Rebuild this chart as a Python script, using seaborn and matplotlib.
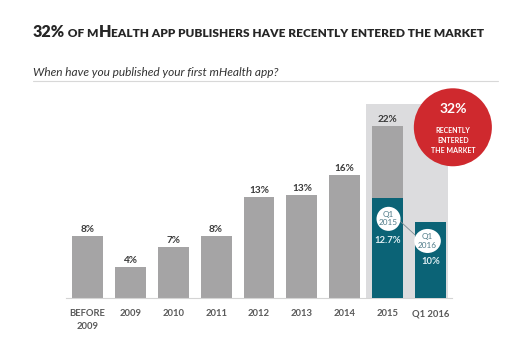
import matplotlib
matplotlib.use("Agg")
import matplotlib.pyplot as plt
import seaborn as sns
import pandas as pd
from matplotlib.patches import Ellipse, Rectangle

# ---- data ----
categories = ["BEFORE\n2009", "2009", "2010", "2011", "2012", "2013", "2014", "2015", "Q1 2016"]
total_heights = [8, 4, 6.6, 8, 13, 13.3, 15.9, 22.2, 0]
total_labels = ["8%", "4%", "7%", "8%", "13%", "13%", "16%", "22%", ""]
recent_heights = [0, 0, 0, 0, 0, 0, 0, 12.9, 9.8]
recent_labels = ["", "", "", "", "", "", "", "12.7%", "10%"]
quarter_tags = ["", "", "", "", "", "", "", "Q1\n2015", "Q1\n2016"]
callout_value = "32%"
callout_text = "RECENTLY\nENTERED\nTHE MARKET"
title_parts = [("32%", 11.6), (" OF M", 8.6), ("H", 11.6),
               ("EALTH APP PUBLISHERS HAVE RECENTLY ENTERED THE MARKET", 8.6)]
subtitle = "When have you published your first mHealth app?"

GRAY = "#a5a4a5"
TEAL = "#0b6376"
HIGHLIGHT = "#dcdcde"
RED = "#cf292e"
DARK = "#3a3a3a"

sns.set_style("white")
plt.rcParams["font.family"] = ["Lato", "DejaVu Sans"]

W, H = 521, 343
fig = plt.figure(figsize=(W / 100, H / 100), dpi=100)
ax = fig.add_axes([66 / W, 45 / H, 386 / W, 194 / H])

df = pd.DataFrame({"cat": categories, "total": total_heights, "recent": recent_heights})
sns.barplot(data=df, x="cat", y="total", color=GRAY, width=0.72, saturation=1, ax=ax,
            zorder=2, linewidth=0, edgecolor="none")
sns.barplot(data=df, x="cat", y="recent", color=TEAL, width=0.72, saturation=1, ax=ax,
            zorder=3, linewidth=0, edgecolor="none")
ax.set_xlim(-0.5, 8.5)
ax.set_ylim(0, 25)
ax.set_xlabel("")
ax.set_ylabel("")
ax.set_yticks([])
for s in ["top", "right", "left"]:
    ax.spines[s].set_visible(False)
ax.spines["bottom"].set_color("#d4d4d4")
ax.spines["bottom"].set_linewidth(0.8)
ax.set_xticks(range(len(categories)))
ax.set_xticklabels(categories, fontsize=6.8, fontweight="bold", color="#5a5a5a", linespacing=1.5)
ax.set_xticks([i - 0.5 for i in range(len(categories) + 1)], minor=True)
ax.tick_params(axis="x", which="major", length=0, pad=8)
ax.tick_params(axis="x", which="minor", length=3, color="#d4d4d4", width=0.8, direction="out")

# highlight background for recent years
ax.add_patch(Rectangle((6.49, 0), 1.91, 25, color=HIGHLIGHT, zorder=0.5, lw=0))

# value labels
for i, (h, lab) in enumerate(zip(total_heights, total_labels)):
    if lab:
        ax.annotate(lab, (i, h), xytext=(0, 1.2), textcoords="offset points",
                    ha="center", va="bottom", fontsize=7.2, fontweight="bold", color=DARK)
rl_y = {7: 7.47, 8: 4.64}
for i, lab in enumerate(recent_labels):
    if lab:
        ax.text(i, rl_y[i], lab, ha="center", va="center", fontsize=6.8,
                fontweight="bold", color="#dfeef2", zorder=6)

# quarter tag circles
tag_pos = {7: (7.02, 10.2, 0.56), 8: (7.93, 7.35, 0.62)}
ax.plot([7.26, 7.64], [10.05, 8.12], color="#7a8a90", lw=0.6, zorder=4)
for i, tag in enumerate(quarter_tags):
    if tag:
        x, y, w = tag_pos[i]
        ax.add_patch(Ellipse((x, y), w, 3.1, color="white", zorder=5, lw=0))
        ax.text(x, y, tag, ha="center", va="center", fontsize=5.9, color="#4f7b88",
                linespacing=1.2, zorder=6)

# red callout
ax.add_patch(Ellipse((8.52, 22.0), 1.82, 10.05, color=RED, zorder=7, lw=0, clip_on=False))
ax.text(8.52, 24.3, callout_value, ha="center", va="center", fontsize=10,
        fontweight="bold", color="white", zorder=8, clip_on=False)
ax.text(8.52, 20.3, callout_text, ha="center", va="center", fontsize=5.0,
        fontweight="bold", color="white", linespacing=1.45, zorder=8, clip_on=False)

# title (small caps emulation)
renderer = fig.canvas.get_renderer()
x_cur = 33
for txt, size in title_parts:
    t = fig.text(x_cur / W, 1 - 37 / H, txt, fontsize=size, fontweight="heavy",
                 color="#262626", va="baseline", ha="left")
    x_cur = t.get_window_extent(renderer).x1

fig.text(33 / W, 1 - 76 / H, subtitle, fontsize=8.6, style="italic", color="#333333",
         va="baseline", ha="left")
fig.add_artist(plt.Line2D([33 / W, 498 / W], [1 - 80.5 / H, 1 - 80.5 / H],
                          color="#d8d8d8", lw=0.8))

fig.savefig("out.png", dpi=100, facecolor="white")
